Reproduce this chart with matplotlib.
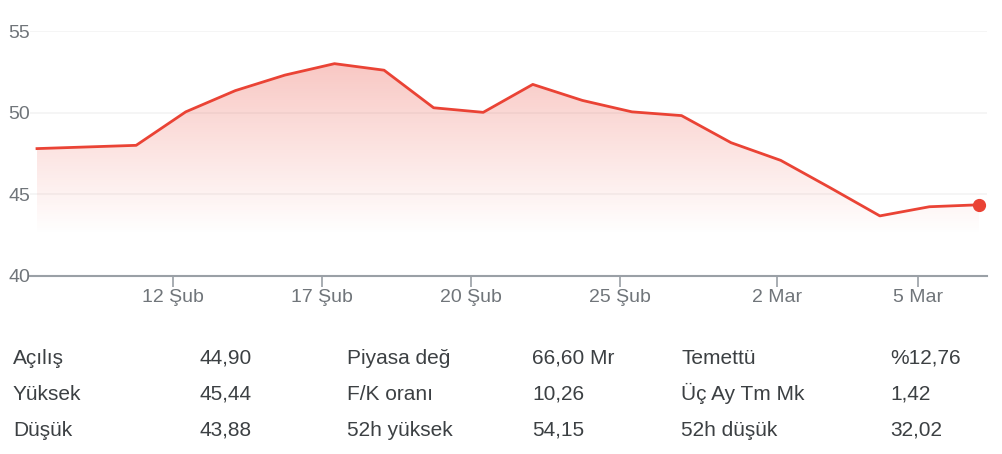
# ------------------------------------------------------------------------------
# -------------------------------------------------------------- IMPORT PACKAGES
import matplotlib
matplotlib.use('Agg')
import matplotlib.pyplot as plt
from matplotlib.colors import LinearSegmentedColormap
import numpy as np

# ------------------------------------------------------------------------------
# ------------------------------------------------------------------------- DATA
prices = [47.8, 47.9, 48.0, 50.05, 51.35, 52.3, 53.0, 52.6, 50.3, 50.02,
          51.73, 50.75, 50.05, 49.82, 48.16, 47.08, 45.4, 43.68, 44.24, 44.36]
days = list(range(len(prices)))

tick_pos = [2.74, 5.75, 8.75, 11.76, 14.93, 17.77]
tick_labels = ['12 Şub', '17 Şub', '20 Şub', '25 Şub', '2 Mar', '5 Mar']
y_ticks = [40, 45, 50, 55]

stat_names = [['Açılış', 'Yüksek', 'Düşük'],
              ['Piyasa değ', 'F/K oranı', '52h yüksek'],
              ['Temettü', 'Üç Ay Tm Mk', '52h düşük']]
stat_values = [['44,90', '45,44', '43,88'],
               ['66,60 Mr', '10,26', '54,15'],
               ['%12,76', '1,42', '32,02']]

# ------------------------------------------------------------------------------
# ------------------------------------------------------------------------ STYLE
plt.rcParams['font.family'] = ['Liberation Sans', 'DejaVu Sans']
red = '#ea4335'
grey = '#70757a'
dark = '#3c4043'

W, H = 1002, 454
fig = plt.figure(figsize=(W/100.0, H/100.0), dpi=100)
ax = fig.add_axes([30.0/W, 1-276.0/H, 957.0/W, 245.0/H])

x0 = -7.0/49.6
x1 = 19 + 8.0/49.6
ax.set_xlim(x0, x1)
ax.set_ylim(40, 55)

# ------------------------------------------------------------------------------
# ---------------------------------------------------------------- GRADIENT FILL
cmap = LinearSegmentedColormap.from_list('fade', [(0.918, 0.263, 0.208, 0.0),
                                                  (0.918, 0.263, 0.208, 0.30)])
grad = np.linspace(0, 1, 256).reshape(-1, 1)
img = ax.imshow(grad, aspect='auto', cmap=cmap, origin='lower',
                extent=[x0, x1, 42.5, 53.2], zorder=1)
poly = ax.fill_between(days, prices, 40, color='none', lw=0)
img.set_clip_path(poly.get_paths()[0], transform=ax.transData)

# ------------------------------------------------------------------------------
# ------------------------------------------------------------------------- LINE
ax.plot(days, prices, color=red, lw=2.0, solid_joinstyle='round', zorder=3)
ax.plot(days[-1], prices[-1], 'o', color=red, ms=8.5, zorder=4)

# ------------------------------------------------------------------------------
# ------------------------------------------------------------------------- AXES
for s in ['top', 'right', 'left']:
    ax.spines[s].set_visible(False)
ax.spines['bottom'].set_color('#9aa0a6')
ax.spines['bottom'].set_linewidth(1.5)
ax.spines['bottom'].set_zorder(5)

for v in y_ticks[1:]:
    ax.axhline(v, color='#f3f3f3', lw=1.2, zorder=0)

ax.set_yticks(y_ticks)
ax.set_yticklabels([str(v) for v in y_ticks])
ax.tick_params(axis='y', length=0, pad=0, labelsize=14, labelcolor=grey)

ax.set_xticks(tick_pos)
ax.set_xticklabels(tick_labels)
ax.tick_params(axis='x', direction='out', length=8, width=1.2, color='#9aa0a6',
               pad=1, labelsize=14, labelcolor=grey)

# ------------------------------------------------------------------------------
# ------------------------------------------------------------------- STATS TABLE
name_x = [13, 347, 681]
value_x = [199, 532, 890]
row_y = [364, 400, 436]
for c in range(3):
    for r in range(3):
        fig.text(name_x[c]/float(W), 1-row_y[r]/float(H), stat_names[c][r],
                 fontsize=15, color=dark, ha='left', va='baseline')
        fig.text(value_x[c]/float(W), 1-row_y[r]/float(H), stat_values[c][r],
                 fontsize=15, color=dark, ha='left', va='baseline')

fig.savefig('out.png', dpi=100)
